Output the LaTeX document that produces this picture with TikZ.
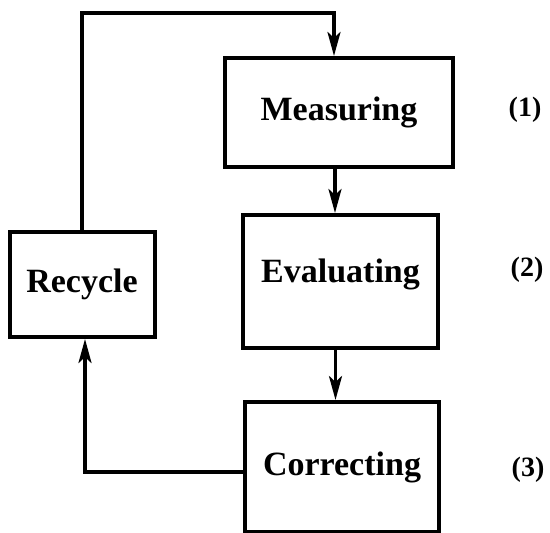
\documentclass[tikz,border=0pt]{standalone}
\usepackage{fontspec}
\setmainfont{Liberation Serif}
\usetikzlibrary{arrows.meta, positioning}

\begin{document}
\begin{tikzpicture}[x=1pt, y=-1pt,
	stage/.style={draw, rectangle, line width=4pt, inner sep=0pt, font=\fontsize{34}{40}\selectfont\bfseries},
	flow/.style={line width=3.5pt, -{Stealth[length=24pt, width=13pt, inset=6pt]}},
	tag/.style={font=\fontsize{28}{32}\selectfont\bfseries}]
	\useasboundingbox (0,0) rectangle (550,533);

	\node[stage, minimum width=228pt, minimum height=109pt] (meas) at (339,112.5) {Measuring};
	\node[stage, minimum width=195pt, minimum height=133pt, text depth=22pt] (eval) at (340.5,281.5) {Evaluating};
	\node[stage, minimum width=194pt, minimum height=130pt] (corr) at (342,467) {Correcting};
	\node[stage, minimum width=145pt, minimum height=105pt] (recy) at (82,284.5) {Recycle};

	\node[tag] (t1) at (525,110) {(1)};
	\node[tag] (t2) at (527,270) {(2)};
	\node[tag] (t3) at (528,470) {(3)};

	\coordinate (top) at (0,13);

	\draw[flow] (recy.north) -- (recy.north |- top) -| ([xshift=-5pt]meas.north);
	\draw[flow] ([xshift=-4pt]meas.south) -- ([xshift=-4pt]meas.south |- eval.north);
	\draw[flow] ([xshift=-5pt]eval.south) -- ([xshift=-5pt]eval.south |- corr.north);
	\draw[flow] ([yshift=-5pt]corr.west) -| ([xshift=3pt]recy.south);
\end{tikzpicture}
\end{document}
